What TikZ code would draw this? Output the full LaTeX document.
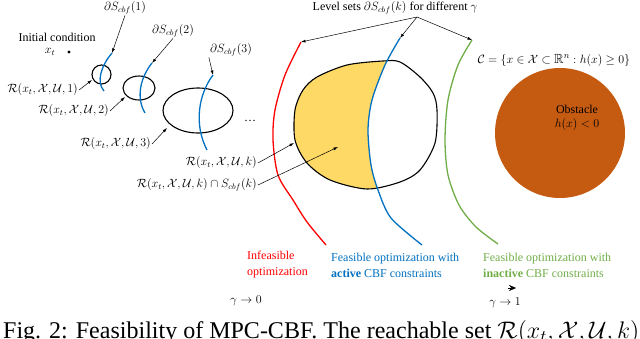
\documentclass[tikz,border=0pt]{standalone}
\usepackage{amsmath,amssymb}
\usepackage{fontspec}
\setmainfont{Liberation Serif}
\newfontfamily\tmsfont{Liberation Serif}
\usetikzlibrary{arrows.meta}
\definecolor{cred}{HTML}{FF0000}
\definecolor{cblue}{HTML}{0070C0}
\definecolor{cgreen}{HTML}{70AD47}
\definecolor{cyel}{HTML}{FFD966}
\definecolor{cobs}{HTML}{C55A11}
\newcommand\BigShapePath{plot[smooth cycle] coordinates {(383,61) (400,62) (420,77) (433,93) (437,110) (435,143) (420,170) (400,182) (367,189) (330,180) (307,163) (295,140) (295,110) (303,90) (317,77) (347,65)}}
\newcommand\BlueBigPath{plot[smooth] coordinates {(400,38) (385,65) (372,100) (368,130) (371,165) (378,190) (391,218) (422,245)}}
\begin{document}
\begin{tikzpicture}[x=1pt,y=-1pt,font=\tmsfont\fontsize{12}{14}\selectfont,
  arr/.style={-{Latex[length=4.5pt,width=3pt]},line width=0.5pt},
  outline/.style={line width=1.1pt},
  lvl/.style={line width=1.3pt},
  lbl/.style={inner sep=1pt},
  botlbl/.style={inner sep=1pt,anchor=west,align=left,font=\tmsfont\fontsize{12}{16}\selectfont}]
\useasboundingbox (0,0) rectangle (640,339);
% obstacle
\node[circle,fill=cobs,minimum size=130pt,inner sep=0] (obs) at (560,133) {};
\node[align=center,inner sep=0] (obstxt) at (577,118) {Obstacle\\$h(x)<0$};
\node[lbl,font=\tmsfont\fontsize{13.2}{15}\selectfont] (cset) at (554,60) {$\mathcal{C}=\{x\in\mathcal{X}\subset\mathbb{R}^n : h(x)\geq 0\}$};
% initial condition
\node[lbl] (init) at (57,37) {Initial condition};
\node[lbl] (xt) at (50,52) {$x_t$};
\node[circle,fill,inner sep=1.1pt] (x0) at (69,52) {};
% reachable sets
\draw[outline] (101.5,74.5) circle (9.5);
\coordinate (r1) at (92,80);
\draw[outline] (139,88) ellipse (16 and 12);
\coordinate (r2) at (125,97);
\draw[outline] (198,110.5) ellipse (35 and 22.5);
\coordinate (r3) at (167,128);
% small level sets
\coordinate (b1s) at (112,53);
\draw[lvl,cblue] (b1s) .. controls (101,66) and (96,82) .. (104,91);
\coordinate (b2s) at (152,63);
\draw[lvl,cblue] (b2s) .. controls (140,78) and (136,98) .. (145,113);
\coordinate (b3s) at (213,75);
\draw[lvl,cblue] (b3s) .. controls (198,95) and (194,125) .. (207,150);
% big shape
\begin{scope}
\clip \BigShapePath;
\fill[cyel] \BlueBigPath -- (250,245) -- (250,38) -- cycle;
\end{scope}
\draw[outline] \BigShapePath;
\coordinate (rk) at (294,143);
\coordinate (rks) at (338,147);
% big level sets
\coordinate (reds) at (301,42);
\draw[lvl,cred] plot[smooth] coordinates {(301,42) (285,75) (275,110) (273,140) (278,175) (293,200) (307,222) (326,245)};
\coordinate (blues) at (400,38);
\draw[lvl,cblue] \BlueBigPath;
\coordinate (greens) at (472,40);
\draw[lvl,cgreen] plot[smooth] coordinates {(472,40) (458,65) (448,100) (445,140) (448,175) (459,205) (476,227) (498,244)};
% labels with arrows
\node[lbl] (ds1) at (125,8) {$\partial S_{cbf}(1)$};
\draw[arr] (ds1.south) -- (b1s);
\node[lbl] (ds2) at (173,31) {$\partial S_{cbf}(2)$};
\draw[arr] (ds2.south) -- (b2s);
\node[lbl] (ds3) at (231,50) {$\partial S_{cbf}(3)$};
\draw[arr] (ds3.south west) -- (b3s);
\node[lbl,anchor=east] (l1) at (79,90) {$\mathcal{R}(x_t,\mathcal{X},\mathcal{U},1)$};
\draw[arr] (l1.east) -- (r1);
\node[lbl,anchor=east] (l2) at (110,111) {$\mathcal{R}(x_t,\mathcal{X},\mathcal{U},2)$};
\draw[arr] (l2.east) -- (r2);
\node[lbl,anchor=east] (l3) at (152,144) {$\mathcal{R}(x_t,\mathcal{X},\mathcal{U},3)$};
\draw[arr] (l3.east) -- (r3);
\node[lbl] (dots) at (250,121) {\dots};
\node[lbl,anchor=east] (lk) at (258,163) {$\mathcal{R}(x_t,\mathcal{X},\mathcal{U},k)$};
\draw[arr] (lk.east) -- (rk);
\node[lbl,anchor=east] (lks) at (258,185) {$\mathcal{R}(x_t,\mathcal{X},\mathcal{U},k)\cap S_{cbf}(k)$};
\draw[arr] (lks.east) -- (rks);
\node[lbl] (lvlset) at (395,8) {Level sets $\partial S_{cbf}(k)$ for different $\gamma$};
\coordinate (lso) at (417,17);
\draw[arr] (lso) -- (reds);
\draw[arr] (lso) -- (blues);
\draw[arr] (lso) -- (greens);
% bottom labels
\node[botlbl,text=cred] (infe) at (246,265) {Infeasible\\optimization};
\node[botlbl,text=cblue] (act) at (330,265) {Feasible optimization with\\\textbf{active} CBF constraints};
\node[botlbl,text=cgreen] (inact) at (482,265) {Feasible optimization with\\\textbf{inactive} CBF constraints};
\node[lbl] (g0) at (246,301) {$\gamma\to 0$};
\node[lbl] (g1) at (505,303) {$\gamma\to 1$};
\coordinate (gta) at (508,288);
\coordinate (gtb) at (516,288);
\draw[-{Stealth[length=7pt,width=6pt]},line width=0.3pt] (gta) -- (gtb);
% caption
\node[anchor=base west,inner sep=0] (cap) at (3,338) {\resizebox{636pt}{!}{\tmsfont Fig. 2: Feasibility of MPC-CBF. The reachable set $\mathcal{R}(x_t,\mathcal{X},\mathcal{U},k)$}};
\end{tikzpicture}
\end{document}
